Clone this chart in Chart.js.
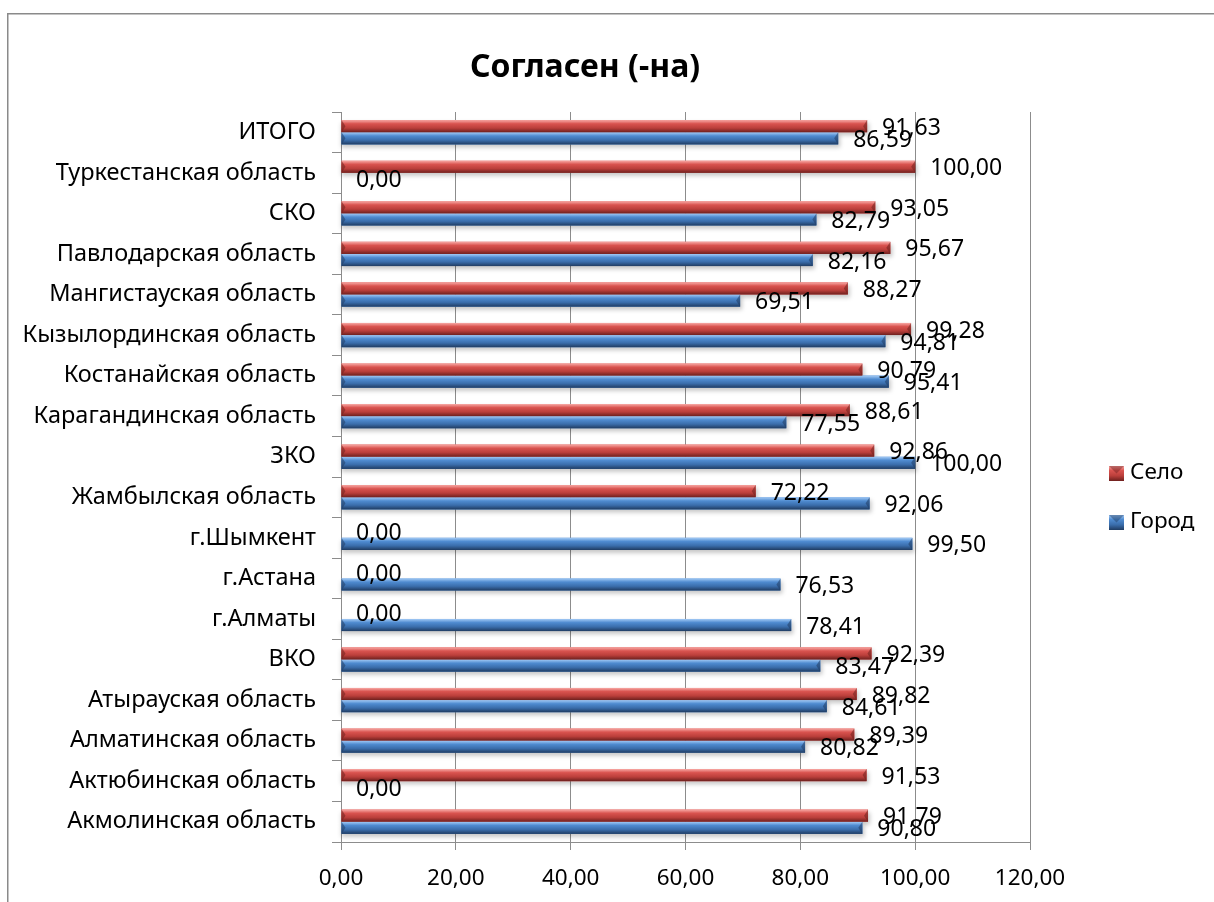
<!DOCTYPE html>
<html><head><meta charset="utf-8">
<script src="https://cdn.jsdelivr.net/npm/chart.js@4.4.1/dist/chart.umd.min.js"></script>
<style>html,body{margin:0;padding:0;background:#fff}#wrap{width:1214px;height:902px;position:relative}</style>
</head><body><div id="wrap"><canvas id="c" width="1214" height="902"></canvas></div>
<script>
const chartTitle = 'Согласен (-на)';
const categories = ['ИТОГО','Туркестанская область','СКО','Павлодарская область','Мангистауская область','Кызылординская область','Костанайская область','Карагандинская область','ЗКО','Жамбылская область','г.Шымкент','г.Астана','г.Алматы','ВКО','Атырауская область','Алматинская область','Актюбинская область','Акмолинская область'];
const seriesNames = ['Село','Город'];
const seloValues  = [91.63,100.00,93.05,95.67,88.27,99.28,90.79,88.61,92.86,72.22,0.00,0.00,0.00,92.39,89.82,89.39,91.53,91.79];
const gorodValues = [86.59,0.00,82.79,82.16,69.51,94.81,95.41,77.55,100.00,92.06,99.50,76.53,78.41,83.47,84.61,80.82,0.00,90.80];
const xTickMin = 0, xTickMax = 120, xTickStep = 20;

const FONT = "'Noto Sans', 'Open Sans', sans-serif";
const fmt = v => Number(v).toFixed(2).replace('.', ',');
const palettes = [
  {light:'#f8aaa6', main:'#d9534f', mid:'#bb3f3b', dark:'#6e201e'},
  {light:'#a4cbf6', main:'#4f8bd0', mid:'#3a6dab', dark:'#203c62'}
];
function barGrad(ctx, top, h, p){
  const g = ctx.createLinearGradient(0, top, 0, top + h);
  g.addColorStop(0, p.light);
  g.addColorStop(0.3, p.main);
  g.addColorStop(0.65, p.mid);
  g.addColorStop(1, p.dark);
  return g;
}

const decor = {
  id:'decor',
  beforeDraw(chart){
    const ctx = chart.ctx;
    ctx.save();
    ctx.fillStyle = '#fff';
    ctx.fillRect(0,0,chart.width,chart.height);
    ctx.strokeStyle = '#8a8a8a';
    ctx.lineWidth = 1.5;
    ctx.beginPath();
    ctx.moveTo(7.75, chart.height + 5);
    ctx.lineTo(7.75, 13.75);
    ctx.lineTo(chart.width + 5, 13.75);
    ctx.stroke();
    ctx.fillStyle = '#000';
    ctx.font = 'bold 32px ' + FONT;
    ctx.textAlign = 'center';
    ctx.textBaseline = 'alphabetic';
    ctx.fillText(chartTitle, 585, 77);
    ctx.restore();
  },
  beforeDatasetsDraw(chart){
    const ctx = chart.ctx;
    ctx.save();
    chart.data.datasets.forEach((ds, di) => {
      chart.getDatasetMeta(di).data.forEach(el => {
        const {x, y, base, height} = el.getProps(['x','y','base','height'], true);
        if (x - base < 1) return;
        ctx.fillStyle = 'rgba(0,0,0,0.22)';
        ctx.filter = 'blur(2px)';
        ctx.fillRect(base, y - height/2 + 3, x - base + 2, height);
      });
    });
    ctx.filter = 'none';
    ctx.restore();
  },
  afterDatasetsDraw(chart){
    const ctx = chart.ctx;
    ctx.save();
    [1,0].forEach(di => {
      const p = palettes[di];
      chart.getDatasetMeta(di).data.forEach(el => {
        const {x, y, base, height} = el.getProps(['x','y','base','height'], true);
        const top = y - height/2;
        const w = x - base;
        if (w < 0.5) return;
        ctx.fillStyle = barGrad(ctx, top, height, p);
        ctx.fillRect(base, top, w, height);
        const cw = Math.min(4, w);
        ctx.fillStyle = p.dark;
        ctx.globalAlpha = 0.55;
        ctx.beginPath();
        ctx.moveTo(x - cw, top + height*0.5);
        ctx.lineTo(x, top);
        ctx.lineTo(x, top + height);
        ctx.closePath();
        ctx.fill();
        ctx.beginPath();
        ctx.moveTo(base + cw, top + height*0.5);
        ctx.lineTo(base, top);
        ctx.lineTo(base, top + height);
        ctx.closePath();
        ctx.fill();
        ctx.globalAlpha = 1;
      });
    });
    ctx.fillStyle = '#000';
    ctx.font = '23px ' + FONT;
    ctx.textAlign = 'left';
    ctx.textBaseline = 'middle';
    chart.data.datasets.forEach((ds, di) => {
      chart.getDatasetMeta(di).data.forEach((el, i) => {
        const {x, y} = el.getProps(['x','y'], true);
        ctx.fillText(fmt(ds.data[i]), x + 15, y + 2);
      });
    });
    ctx.restore();
  },
  afterDraw(chart){
    const ctx = chart.ctx;
    ctx.save();
    const items = [{i:0, y:473},{i:1, y:522}];
    items.forEach(it => {
      const p = palettes[it.i];
      const bx = 1109, by = it.y - 7, s = 15;
      ctx.fillStyle = barGrad(ctx, by, s, p);
      ctx.fillRect(bx, by, s, s);
      ctx.fillStyle = p.dark; ctx.globalAlpha = 0.45;
      ctx.beginPath(); ctx.moveTo(bx, by); ctx.lineTo(bx + s/2, by + s/2); ctx.lineTo(bx + s, by); ctx.closePath(); ctx.fill();
      ctx.globalAlpha = 1;
      ctx.fillStyle = '#000';
      ctx.font = '22.5px ' + FONT;
      ctx.textAlign = 'left';
      ctx.textBaseline = 'middle';
      ctx.fillText(seriesNames[it.i], 1130, it.y);
    });
    ctx.restore();
  }
};

new Chart(document.getElementById('c'), {
  type: 'bar',
  data: {
    labels: categories,
    datasets: [
      {label: seriesNames[0], data: seloValues, backgroundColor: palettes[0].main, barPercentage: 1.0, categoryPercentage: 0.6},
      {label: seriesNames[1], data: gorodValues, backgroundColor: palettes[1].main, barPercentage: 1.0, categoryPercentage: 0.6}
    ]
  },
  options: {
    indexAxis: 'y',
    responsive: false,
    animation: false,
    devicePixelRatio: 1,
    layout: {padding: {left: 10, right: 184, top: 112, bottom: 0}},
    plugins: {
      legend: {display: false},
      tooltip: {enabled: false},
      title: {display: false}
    },
    scales: {
      x: {
        min: xTickMin, max: xTickMax,
        ticks: {stepSize: xTickStep, color: '#000', font: {family: FONT, size: 22.5}, padding: 15, callback: v => fmt(v)},
        grid: {color: '#8c8c8c', lineWidth: 1, tickLength: 8},
        border: {color: '#8c8c8c', width: 1},
        afterFit(s){ s.height = 60; }
      },
      y: {
        ticks: {color: '#000', font: {family: FONT, size: 23.5}, padding: 16, autoSkip: false},
        grid: {drawOnChartArea: false, tickLength: 9, color: '#8c8c8c', offset: true},
        border: {color: '#8c8c8c', width: 1},
        afterFit(s){ s.width = 331; }
      }
    }
  },
  plugins: [decor]
});
</script></body></html>
